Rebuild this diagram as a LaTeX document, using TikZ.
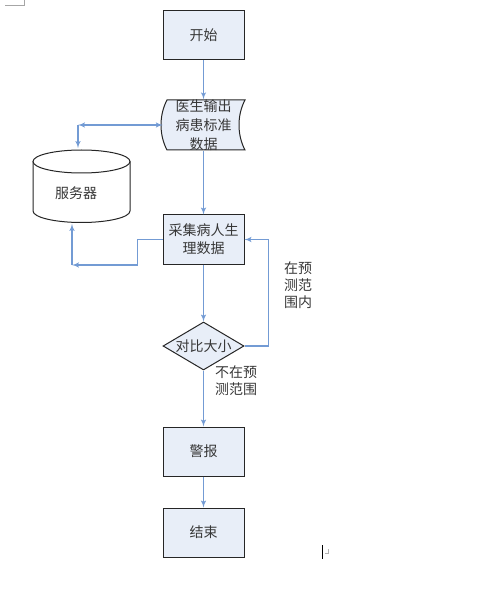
\documentclass[tikz,border=0pt]{standalone}
\usepackage{fontspec}
\setmainfont{Noto Sans CJK SC}
\usepackage{tikz}
\usetikzlibrary{shapes, arrows, positioning, backgrounds}
\definecolor{boxfill}{RGB}{232,238,248}
\definecolor{linkblue}{RGB}{115,155,212}
\definecolor{inkgray}{RGB}{55,55,55}
\tikzstyle{box}    = [draw=black!85, fill=boxfill, rectangle, line width=1pt, minimum width=81pt, minimum height=49pt, inner sep=2pt, align=center]
\tikzstyle{decide} = [draw=black!85, fill=boxfill, diamond, line width=1pt, minimum width=81pt, minimum height=48pt, aspect=1.7, inner sep=0pt]
\tikzstyle{tape}   = [rectangle, minimum width=81pt, minimum height=50pt, inner sep=0pt, align=center, font=\fontsize{14pt}{19pt}\selectfont]
\tikzstyle{note}   = [align=left, inner sep=0pt, font=\fontsize{14pt}{17pt}\selectfont]
\tikzstyle{link}   = [draw=linkblue, line width=1.4pt, -latex']
\tikzstyle{line}   = [draw=linkblue, line width=1.4pt]

\begin{document}
\begin{tikzpicture}[x=1pt, y=1pt, node distance=90pt, text=inkgray, font=\fontsize{14pt}{18pt}\selectfont]
\useasboundingbox (0,0) rectangle (497,-593);

% page marks
\draw [gray!70, line width=0.8pt] (5,-5) -- (24,-5) -- (24,0);
\draw [black, line width=0.8pt] (322,-545) -- (322,-559);
\draw [gray!60, line width=0.6pt] (325,-553) -- (328,-553) -- (328,-549);

% nodes
\node [box]                                      (start)   at (203.5,-35.5) {开始};
\node [tape, below of=start, node distance=89.5pt]  (doc)     {医生输出\\病患标准\\数据};
\node [box,  below of=doc,   node distance=114.5pt] (collect) {采集病人生\\理数据};
\node [decide, below of=collect, node distance=106.5pt] (cmp) {对比大小};
\node [box,  below of=cmp,   node distance=105.5pt] (alarm)   {警报};
\node [box,  below of=alarm, node distance=81pt]    (stop)    {结束};
\node [inner sep=0pt]                            (server)  at (76,-193) {服务器};

% labels
\node [note] (inrange)  at (298,-285) {在预\\测范\\围内};
\node [note] (outrange) at (236,-381) {不在预\\测范围};

% shapes behind the text
\begin{pgfonlayer}{background}
\draw [draw=black!85, fill=boxfill, line width=1pt]
  ([shift={(-36.5,25)}]doc.center) -- ([shift={(41.5,25)}]doc.center)
  .. controls +(-8,-15) and +(-8,15) .. ([shift={(41.5,-25)}]doc.center)
  -- ([shift={(-36.5,-25)}]doc.center)
  .. controls +(-8,15) and +(-8,-15) .. cycle;
\draw [draw=black!85, fill=white, line width=1pt]
  (33,-161.5) -- (33,-211) arc [start angle=180, end angle=360, x radius=48.5, y radius=11.5]
  -- (130,-161.5);
\draw [draw=black!85, fill=white, line width=1pt] (81.5,-161.5) ellipse [x radius=48.5, y radius=11.5];
\end{pgfonlayer}

% connector ends at the server
\coordinate (upcorner) at (78,-125);
\coordinate (srvtop)   at (78,-148);
\coordinate (lowcorner) at (72,-265);
\coordinate (srvbot)   at (72,-224);

% edges
\path [link] (start)   -- (doc);
\path [link] (doc)     -- (collect);
\path [link] (collect) -- (cmp);
\path [link] (cmp)     -- (alarm);
\path [link] (alarm)   -- (stop);
\path [link, latex'-latex'] (doc.west) -- (upcorner);
\path [link] (upcorner) -- (srvtop);
\path [link] (collect.west) -- ++(-25,0) |- (lowcorner);
\path [link] (lowcorner) -- (srvbot);
\path [link] (cmp.east) -- ++(24,0) |- (collect.east);

\end{tikzpicture}
\end{document}
